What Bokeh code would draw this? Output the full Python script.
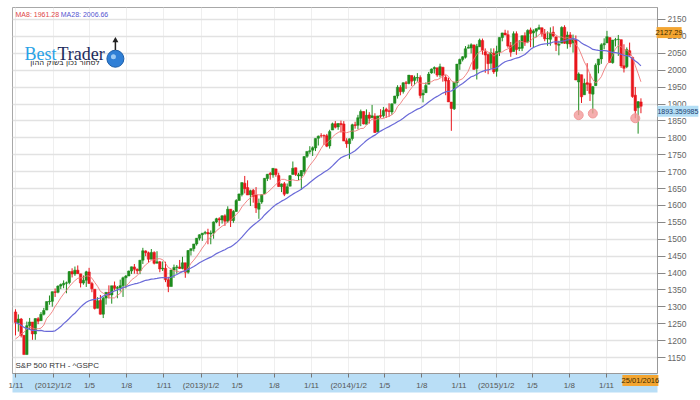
import numpy as np
import pandas as pd
from bokeh.plotting import figure
from bokeh.models import Range1d, FixedTicker, Label, ColumnDataSource
from bokeh.core.properties import value
from bokeh.embed import file_html
from bokeh.resources import INLINE

# ---------------- data (weekly S&P 500, weeks starting 2011-10-31) ----------------
first_week = "2011-10-31"

opens = [
    1284.96, 1253.21, 1263.85, 1215.62, 1158.67, 1244.33, 1255.05, 1219.74, 1265.02,
    1258.86, 1277.83, 1290.22, 1315.29, 1316.16, 1344.32, 1343.06, 1361.22, 1365.20, 1369.59, 1371.92, 1404.17, 1397.11,
    1408.47, 1397.45, 1370.27, 1378.53, 1403.26, 1368.79, 1351.93, 1295.73, 1318.90, 1278.29, 1325.72, 1342.42, 1334.90,
    1362.33, 1354.66, 1356.50, 1362.34, 1385.94, 1391.04, 1405.87, 1418.13, 1411.13, 1406.54, 1437.92, 1465.42, 1459.76,
    1440.90, 1460.93, 1428.75, 1433.21, 1411.94, 1414.02, 1380.13, 1359.88, 1409.15, 1416.34, 1418.07, 1413.54, 1430.15,
    1402.43, 1466.47, 1472.05, 1485.98, 1502.96, 1513.17, 1517.93, 1519.79, 1515.60, 1518.20, 1551.15, 1560.70, 1556.89,
    1569.18, 1553.26, 1588.84, 1555.25, 1582.34, 1614.40, 1632.10, 1665.71, 1652.63, 1631.71, 1644.67, 1630.64, 1588.77,
    1609.78, 1634.20, 1679.59, 1694.41, 1690.32, 1708.01, 1688.37, 1655.25, 1664.29, 1635.95, 1656.85, 1691.70, 1711.44,
    1687.26, 1687.15, 1699.86, 1745.20, 1759.42, 1763.40, 1769.96, 1798.82, 1806.33, 1806.55, 1806.21, 1776.01, 1822.92,
    1841.47, 1832.31, 1842.29, 1841.05, 1791.03, 1782.68, 1797.74, 1838.76, 1836.78, 1857.68, 1877.86, 1839.79, 1867.67,
    1859.16, 1863.92, 1818.18, 1865.79, 1865.00, 1884.66, 1880.03, 1876.66, 1902.01, 1923.87, 1948.97, 1937.15, 1962.92,
    1960.79, 1984.22, 1969.86, 1976.93, 1978.25, 1926.62, 1933.43, 1958.36, 1991.74, 2004.07, 2007.17, 1986.04, 2009.08,
    1978.96, 1970.01, 1905.65, 1885.62, 1962.97, 2018.21, 2032.01, 2038.29, 2065.07, 2065.78, 2074.84, 2005.03, 2069.28,
    2087.63, 2054.44, 2046.13, 2020.76, 2050.42, 1996.67, 2053.47, 2096.47, 2109.83, 2105.23, 2072.25, 2055.35, 2107.99,
    2064.11, 2064.87, 2102.03, 2084.11, 2119.29, 2110.23, 2115.56, 2121.30, 2125.34, 2108.64, 2092.34, 2091.34, 2112.50,
    2098.63, 2073.95, 2080.03, 2126.85, 2078.19, 2104.49, 2080.98, 2089.70, 1965.15, 1986.73, 1927.30, 1963.06, 1960.84,
    1929.18, 1954.33, 2015.65, 2033.47, 2075.08, 2080.76, 2096.56, 2022.08, 2089.41, 2090.95, 2090.42, 2013.37, 2010.27,
    2057.77,
    2038.20, 1926.12, 1888.66, 1906.28,
]
highs = [
    1292.66, 1277.55, 1266.98, 1215.62, 1256.22, 1267.06, 1255.05, 1265.42, 1269.37,
    1284.62, 1296.82, 1315.49, 1333.47, 1345.34, 1354.32, 1363.40, 1368.92, 1378.04, 1374.76, 1405.88, 1414.00, 1419.15,
    1422.38, 1397.45, 1392.76, 1406.64, 1415.32, 1373.91, 1351.93, 1328.49, 1334.93, 1329.05, 1343.32, 1363.46, 1362.17,
    1374.81, 1361.54, 1380.39, 1389.19, 1394.16, 1407.14, 1418.71, 1426.68, 1413.46, 1437.92, 1474.51, 1467.07, 1463.24,
    1470.96, 1464.02, 1464.48, 1435.46, 1434.27, 1433.38, 1388.81, 1409.16, 1424.85, 1423.73, 1438.59, 1448.00, 1430.15,
    1467.94, 1472.75, 1485.98, 1503.26, 1514.41, 1518.31, 1524.69, 1530.94, 1525.84, 1552.48, 1563.32, 1564.91, 1570.28,
    1573.66, 1597.35, 1588.84, 1585.78, 1618.46, 1635.01, 1667.47, 1687.18, 1674.21, 1646.53, 1648.69, 1654.19, 1620.07,
    1632.07, 1680.19, 1693.12, 1698.78, 1709.67, 1709.24, 1696.81, 1664.85, 1669.51, 1664.83, 1689.97, 1729.86, 1711.44,
    1696.55, 1703.44, 1745.31, 1759.82, 1775.22, 1774.54, 1798.22, 1806.76, 1813.55, 1810.02, 1811.52, 1823.75, 1844.89,
    1849.44, 1843.23, 1850.84, 1849.31, 1798.77, 1798.03, 1841.65, 1847.50, 1867.92, 1883.57, 1877.87, 1883.97, 1875.92,
    1897.28, 1872.53, 1864.85, 1884.89, 1891.33, 1889.07, 1902.17, 1901.26, 1924.03, 1955.55, 1955.59, 1963.91, 1968.17,
    1985.59, 1984.22, 1983.94, 1991.39, 1984.85, 1942.92, 1964.04, 1994.76, 2005.04, 2011.17, 2007.17, 2019.26, 2009.08,
    1985.17, 1977.84, 1906.13, 1965.27, 2018.19, 2034.26, 2041.28, 2071.46, 2075.76, 2079.47, 2075.78, 2077.85, 2093.55,
    2093.55, 2064.43, 2049.30, 2064.62, 2064.62, 2072.40, 2097.03, 2110.61, 2119.59, 2117.52, 2083.49, 2114.86, 2114.86,
    2088.97, 2102.61, 2111.91, 2120.92, 2125.92, 2120.95, 2123.89, 2134.72, 2126.22, 2121.92, 2115.02, 2126.65, 2129.87,
    2098.63, 2087.02, 2129.67, 2132.82, 2114.24, 2112.66, 2105.35, 2102.87, 1993.48, 1986.73, 1975.01, 2020.86, 1989.36,
    1953.46, 2020.13, 2033.54, 2079.74, 2094.32, 2116.48, 2096.56, 2089.41, 2095.61, 2104.27, 2090.42, 2076.72, 2067.36,
    2081.56,
    2038.20, 1950.33, 1908.85, 1916.76,
]
lows = [
    1215.42, 1226.64, 1209.43, 1158.66, 1158.66, 1231.47, 1202.37, 1202.37, 1248.64,
    1258.86, 1274.55, 1290.22, 1306.06, 1300.49, 1329.19, 1340.03, 1352.28, 1354.92, 1340.03, 1366.69, 1386.87, 1391.56,
    1397.83, 1357.38, 1365.38, 1358.79, 1367.96, 1343.13, 1291.98, 1295.73, 1277.25, 1266.74, 1306.62, 1324.41, 1309.27,
    1348.03, 1325.41, 1345.07, 1329.24, 1354.65, 1391.04, 1397.32, 1398.04, 1397.01, 1396.56, 1426.68, 1449.98, 1430.53,
    1440.90, 1425.53, 1428.75, 1402.22, 1405.95, 1373.03, 1343.35, 1359.88, 1385.43, 1398.11, 1411.88, 1410.90, 1385.92,
    1398.11, 1451.64, 1463.76, 1481.16, 1496.33, 1495.02, 1513.61, 1485.01, 1485.01, 1501.48, 1547.36, 1538.57, 1546.22,
    1539.50, 1548.63, 1536.03, 1548.61, 1581.28, 1614.40, 1626.74, 1635.53, 1630.74, 1598.23, 1608.07, 1577.70, 1560.33,
    1604.57, 1634.20, 1672.02, 1676.03, 1681.86, 1684.91, 1654.41, 1639.43, 1627.47, 1633.41, 1656.85, 1691.70, 1687.11,
    1674.99, 1646.47, 1692.13, 1740.50, 1752.70, 1746.20, 1760.64, 1777.23, 1800.58, 1779.09, 1772.28, 1767.99, 1822.92,
    1827.74, 1823.73, 1815.52, 1790.29, 1770.45, 1737.92, 1791.83, 1826.99, 1825.29, 1834.44, 1839.57, 1839.49, 1842.11,
    1859.16, 1814.36, 1815.80, 1858.71, 1859.79, 1859.00, 1862.36, 1868.14, 1902.01, 1915.98, 1925.78, 1930.91, 1944.69,
    1958.22, 1952.86, 1955.59, 1965.77, 1916.76, 1904.78, 1932.38, 1958.36, 1989.79, 1990.10, 1980.26, 1978.48, 1965.99,
    1926.03, 1906.05, 1820.66, 1882.30, 1951.37, 2001.01, 2025.91, 2034.46, 2064.75, 2049.57, 2002.33, 1972.56, 2069.28,
    2046.04, 1992.44, 1988.12, 2004.49, 1989.18, 1980.90, 2041.88, 2085.44, 2103.00, 2066.40, 2039.69, 2055.35, 2045.50,
    2056.52, 2056.52, 2072.00, 2080.00, 2067.93, 2067.93, 2098.18, 2120.01, 2099.18, 2085.67, 2072.14, 2072.49, 2097.40,
    2056.64, 2044.02, 2080.03, 2077.99, 2063.52, 2067.91, 2052.09, 1970.89, 1867.01, 1903.07, 1927.30, 1938.47, 1908.77,
    1871.91, 1954.33, 1990.73, 2018.81, 2062.03, 2080.76, 2022.94, 2019.39, 2070.29, 2042.35, 2006.57, 1993.26, 2005.93,
    2043.62,
    1918.46, 1857.83, 1812.29, 1872.70,
]
closes = [
    1253.23, 1263.85, 1215.65, 1158.67, 1244.28, 1255.19, 1219.66, 1265.33, 1257.60,
    1277.81, 1289.09, 1315.38, 1316.33, 1344.90, 1342.64, 1361.23, 1365.74, 1369.63, 1370.87, 1404.17, 1397.11, 1408.47,
    1398.08, 1370.26, 1378.53, 1403.36, 1369.10, 1353.39, 1295.22, 1317.82, 1278.04, 1325.66, 1342.84, 1335.02, 1362.16,
    1354.68, 1356.78, 1362.66, 1385.97, 1390.99, 1405.87, 1418.16, 1411.13, 1406.58, 1437.92, 1465.77, 1460.15, 1440.67,
    1460.93, 1428.59, 1433.19, 1411.94, 1414.20, 1379.85, 1359.88, 1409.15, 1416.18, 1418.07, 1413.58, 1430.15, 1402.43,
    1466.47, 1472.05, 1485.98, 1502.96, 1513.17, 1517.93, 1519.79, 1515.60, 1518.20, 1551.18, 1560.70, 1556.89, 1569.19,
    1553.28, 1588.85, 1555.25, 1582.24, 1614.42, 1633.70, 1667.47, 1649.60, 1630.74, 1643.38, 1626.73, 1592.43, 1606.28,
    1631.89, 1680.19, 1692.09, 1691.65, 1709.67, 1691.42, 1655.83, 1663.50, 1632.97, 1655.17, 1687.99, 1709.91, 1691.75,
    1690.50, 1703.20, 1744.50, 1759.77, 1761.64, 1770.61, 1798.18, 1804.76, 1805.81, 1805.09, 1775.32, 1818.32, 1841.40,
    1831.37, 1842.37, 1838.70, 1790.29, 1782.59, 1797.02, 1838.63, 1836.25, 1859.45, 1878.04, 1841.13, 1866.52, 1857.62,
    1865.09, 1815.69, 1864.85, 1863.40, 1881.14, 1878.48, 1877.86, 1900.53, 1923.57, 1949.44, 1936.16, 1962.87, 1960.96,
    1985.44, 1967.57, 1978.22, 1978.34, 1925.15, 1931.59, 1955.06, 1988.40, 2003.37, 2007.71, 1985.54, 2010.40, 1982.85,
    1967.90, 1906.13, 1886.76, 1964.58, 2018.05, 2031.92, 2039.82, 2063.50, 2067.56, 2075.37, 2002.33, 2070.65, 2088.77,
    2058.20, 2044.81, 2019.42, 2051.82, 1994.99, 2055.47, 2096.99, 2110.30, 2104.50, 2071.26, 2053.40, 2108.10, 2061.02,
    2066.96, 2102.06, 2081.18, 2117.69, 2108.29, 2116.10, 2122.73, 2126.06, 2107.39, 2092.83, 2094.11, 2109.99, 2101.49,
    2076.78, 2076.62, 2126.64, 2079.65, 2103.84, 2077.57, 2091.54, 1970.89, 1988.87, 1921.22, 1961.05, 1958.08, 1931.34,
    1951.36, 2014.89, 2033.11, 2075.15, 2079.36, 2099.20, 2023.04, 2089.17, 2090.11, 2091.69, 2012.37, 2005.55, 2060.99,
    2043.94,
    1922.03, 1880.33, 1906.90, 1893.36,
]
# weekly closes before the first candle (feed the moving averages)
history_closes = [
    1363.61, 1340.20, 1337.77, 1333.27, 1331.10, 1300.16, 1270.98, 1271.50, 1268.45,
    1339.67, 1343.80, 1316.14, 1345.02, 1292.28, 1199.38, 1178.81, 1123.53, 1176.80,
    1173.97, 1154.23, 1216.01, 1136.43, 1131.42, 1155.46, 1224.58, 1238.25, 1285.09,
]
signal_weeks = [199, 204, 219]          # marked lows

y_ticks = list(range(1150, 2151, 50))
tick_dates = ["2011-11-01", "2012-02-01", "2012-05-01", "2012-08-01", "2012-11-01",
              "2013-02-01", "2013-05-01", "2013-08-01", "2013-11-01",
              "2014-02-01", "2014-05-01", "2014-08-01", "2014-11-01",
              "2015-02-01", "2015-05-01", "2015-08-01", "2015-11-01"]
tick_labels = ["1/11", "(2012)/1/2", "1/5", "1/8", "1/11", "(2013)/1/2", "1/5", "1/8", "1/11",
               "(2014)/1/2", "1/5", "1/8", "1/11", "(2015)/1/2", "1/5", "1/8", "1/11"]
ma8_text, ma28_text = "MA8: 1961.28", "MA28: 2006.66"
level_text, last_text = "2127.29", "1893.359985"
level_value, last_value = 2127.29, 1893.36
date_text = "25/01/2016"
symbol_text = "S&P 500 RTH - ^GSPC"

# ---------------- derived ----------------
n = len(closes)
assert len(opens) == len(highs) == len(lows) == n == 222
idx = np.arange(n)
full = pd.Series(history_closes + closes)
ma8 = full.rolling(8).mean().to_numpy()[len(history_closes):]
ma28 = full.rolling(28).mean().to_numpy()[len(history_closes):]

up_col, down_col = "#1e8c1e", "#e8161c"
colors = [up_col if c >= o else down_col for o, c in zip(opens, closes)]
src = ColumnDataSource(dict(x=idx, o=opens, h=highs, l=lows, c=closes,
                            top=np.maximum(opens, closes), bot=np.minimum(opens, closes),
                            col=colors, ma8=ma8, ma28=ma28))

t0 = pd.Timestamp(first_week)
xt = [round((pd.Timestamp(d) - t0).days / 7.0, 3) for d in tick_dates]

X0, X1 = -1.06, 226.85
p = figure(width=700, height=400, output_backend="svg", toolbar_location=None,
           x_range=Range1d(X0, X1), y_range=Range1d(1102.7, 2185.5),
           y_axis_location="right", min_border_left=12, min_border_right=43,
           min_border_top=7, min_border_bottom=27)
p.background_fill_color = "white"
p.border_fill_color = "white"
p.outline_line_color = "#a8a8a8"

p.ygrid.ticker = FixedTicker(ticks=y_ticks)
p.ygrid.grid_line_color = "#e2e2e2"
p.ygrid.grid_line_width = 1.5
p.xgrid.ticker = FixedTicker(ticks=xt)
p.xgrid.grid_line_color = "#efefef"

yax = p.yaxis[0]
yax.ticker = FixedTicker(ticks=y_ticks)
yax.major_label_text_font = "Liberation Sans"
yax.major_label_text_font_size = "8.5px"
yax.major_label_text_color = "#666666"
yax.major_tick_out = 8
yax.major_tick_in = 0
yax.minor_tick_out = 0
yax.major_tick_line_color = "#888888"
yax.axis_line_color = "#999999"
yax.major_label_standoff = 2

xax = p.xaxis[0]
xax.ticker = FixedTicker(ticks=xt)
xax.major_label_overrides = {t: lab for t, lab in zip(xt, tick_labels)}
xax.major_label_text_font = "Liberation Sans"
xax.major_label_text_font_size = "8px"
xax.major_label_text_color = "#555555"
xax.major_tick_out = 4
xax.major_tick_in = 0
xax.minor_tick_out = 0
xax.major_tick_line_color = "#777777"
xax.axis_line_color = "#999999"
xax.major_label_standoff = 3
xax.background_fill_color = "#b9def6"

# candles
p.segment(x0="x", y0="l", x1="x", y1="h", color="col", line_width=1, source=src)
p.vbar(x="x", width=0.88, top="top", bottom="bot", fill_color="col", line_color="col",
       line_width=0.5, source=src)
# moving averages
p.line("x", "ma8", source=src, line_color="#ef7b7b", line_width=1, line_alpha=0.9)
p.line("x", "ma28", source=src, line_color="#6a6ad8", line_width=1.2)
# marked lows
p.scatter(x=[idx[i] for i in signal_weeks], y=[lows[i] for i in signal_weeks],
          size=9, fill_color="#f29a9a", line_color="#f29a9a", fill_alpha=0.8)

# logo
p.scatter(x=[35.3], y=[2034.0], size=17, fill_color="#2f7fd6", line_color="#1d5ea8")
p.scatter(x=[34.6], y=[2040.0], size=5, fill_color="#9cc9f2", line_color=None)
p.segment(x0=[35.3], y0=[2060], x1=[35.3], y1=[2090], line_color="#222222", line_width=1.5)
p.scatter(x=[35.3], y=[2088], marker="triangle", size=6, fill_color="#222222", line_color=None)

def lab(txt, x, y, **kw):
    p.add_layout(Label(x=x, y=y, text=txt, **kw))

lab("Best", 3.2, 2048, text_font="Liberation Serif", text_font_size="18px",
    text_color="#2aa2e6", text_baseline="alphabetic")
lab("Trader", 14.8, 2048, text_font="Liberation Serif", text_font_size="18px",
    text_color="#1c2b5c", text_baseline="alphabetic")
lab("לסחור נכון בשוק ההון", 17.5, 2022, text_font="DejaVu Sans", text_font_size="7.5px",
    text_color="#222222", text_align="center", text_baseline="middle")
lab(ma8_text, 0.0, 2165, text_font="Liberation Sans", text_font_size="7px",
    text_color="#e04646", text_baseline="middle")
lab(ma28_text, 16.0, 2165, text_font="Liberation Sans", text_font_size="7px",
    text_color="#5555d0", text_baseline="middle")
lab(symbol_text, 0.0, 1126, text_font="Liberation Sans", text_font_size="8px",
    text_color="#333333", text_baseline="middle")

# value / date flags drawn on top, outside the frame
flag_x = [X1 + 4.1, X1 + 7.2, 220.8]
flag_y = [level_value - 16, last_value - 15, 1082]
flag_w = [25, 41, 36]
flag_fill = ["#f3a531", "#b3def5", "#f3a531"]
flag_txt = [level_text, last_text, date_text]
flag_col = ["#3a2a00", "#1b3d6e", "#3a2a00"]
flag_fs = ["7.5px", "7px", "7.5px"]
fsrc = ColumnDataSource(dict(x=flag_x, y=flag_y, w=flag_w, fill=flag_fill, t=flag_txt,
                             tc=flag_col, fs=flag_fs))
p.rect(x="x", y="y", width="w", height=11, width_units="screen", height_units="screen",
       fill_color="fill", line_color=None, source=fsrc, level="overlay")
p.text(x="x", y="y", text="t", text_color="tc", text_font=value("Liberation Sans"),
       text_font_size="fs", text_align="center", text_baseline="middle",
       source=fsrc, level="overlay")

open("out.html", "w").write(file_html(p, INLINE))
